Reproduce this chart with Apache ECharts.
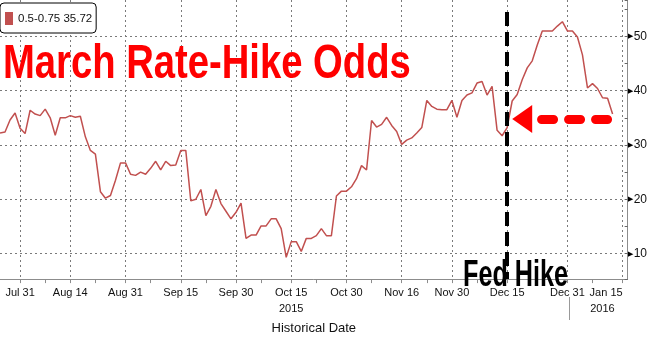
<!DOCTYPE html>
<html><head><meta charset="utf-8">
<script src="https://cdn.jsdelivr.net/npm/echarts@6/dist/echarts.min.js"></script>
<style>html,body{margin:0;padding:0;background:#fff}#c{width:650px;height:340px}</style>
</head><body><div id="c"></div>
<script>
// ---- data ----
const seriesName = '0.5-0.75';
const firstDate = '2015-07-27';
const lastDate = '2016-01-18';
const values = [
  32.2, 32.4, 34.6, 35.9, 33.1, 32.1, 36.4, 35.7, 35.4, 36.6,
  35.0, 31.8, 35.0, 35.0, 35.4, 35.1, 35.3, 31.5, 29.0, 28.3,
  21.4, 20.2, 20.7, 23.5, 26.7, 26.7, 24.6, 24.4, 25.0, 24.6,
  25.7, 27.0, 25.4, 27.0, 26.2, 26.3, 29.0, 29.0, 19.7, 20.0,
  21.8, 17.0, 18.7, 21.8, 19.2, 17.8, 16.4, 17.6, 19.3, 12.8,
  13.4, 13.4, 15.1, 15.1, 16.4, 16.4, 14.6, 9.3, 12.2, 12.2,
  10.4, 12.8, 12.8, 13.3, 14.6, 13.3, 13.3, 20.6, 21.5, 21.5,
  22.3, 23.8, 26.2, 25.4, 34.5, 33.3, 33.8, 35.1, 33.6, 32.5,
  30.1, 30.9, 31.3, 32.2, 33.2, 38.2, 37.1, 36.6, 36.5, 36.5,
  38.2, 35.1, 38.2, 39.2, 39.6, 41.4, 41.7, 39.2, 40.8, 32.7,
  31.7, 33.2, 38.1, 39.3, 42.0, 44.2, 45.5, 48.4, 51.0, 51.0,
  51.0, 51.9, 52.7, 51.0, 51.0, 49.9, 46.6, 40.5, 41.3, 40.4,
  38.7, 38.6, 35.72
];
const tickDates = ['2015-07-31','2015-08-14','2015-08-31','2015-09-15','2015-09-30','2015-10-15',
  '2015-10-30','2015-11-16','2015-11-30','2015-12-15','2015-12-31','2016-01-15'];
const minorTickDates = ['2015-08-07','2015-08-21','2015-09-07','2015-09-22','2015-10-07','2015-10-22',
  '2015-11-06','2015-11-23','2015-12-07','2015-12-23','2016-01-07'];
const yearLabels = {'2015-10-15': '2015', '2016-01-15': '2016'};
const monthNames = ['Jan','Feb','Mar','Apr','May','Jun','Jul','Aug','Sep','Oct','Nov','Dec'];
const hikeDate = '2015-12-15';
const arrowFrom = '2016-01-12', arrowTo = '2015-12-18', arrowLevel = 34.8, hikeTop = 54.5;
const yMin = 5.3, yMax = 56.7;
const titleText = 'March Rate-Hike Odds';
const hikeText = 'Fed Hike';
const axisName = 'Historical Date';

// weekday categories (business-day axis)
function weekdays(a, b) {
  const out = []; let d = new Date(a + 'T00:00:00Z'); const e = new Date(b + 'T00:00:00Z');
  while (d <= e) { const w = d.getUTCDay(); if (w !== 0 && w !== 6) out.push(d.toISOString().slice(0, 10)); d = new Date(d.getTime() + 86400000); }
  return out;
}
const categories = weekdays(firstDate, lastDate);
const tickSet = new Set(tickDates);
const allTickSet = new Set(tickDates.concat(minorTickDates));
function fmt(s) { const p = s.split('-'); return monthNames[+p[1] - 1] + ' ' + (+p[2]); }

const FONT = '"Liberation Sans", Arial, sans-serif';
const lineColor = '#c1504f';
const gridColor = '#7a7a7a';

const chart = echarts.init(document.getElementById('c'), null, {renderer: 'canvas'});
chart.setOption({
  animation: false,
  backgroundColor: '#fff',
  legend: {
    left: 0, top: 3, padding: [9, 4, 8, 5], itemWidth: 8, itemHeight: 13, icon: 'rect',
    borderColor: '#000', borderWidth: 1, borderRadius: 4, backgroundColor: '#fff',
    textStyle: {fontFamily: FONT, fontSize: 11.5, color: '#111'},
    formatter: n => n + ' ' + values[values.length - 1]
  },
  grid: {left: 0, right: 18, top: 0, bottom: 56, containLabel: false},
  xAxis: {
    type: 'category', data: categories, boundaryGap: false,
    name: axisName, nameLocation: 'middle', nameGap: 42,
    nameTextStyle: {fontFamily: FONT, fontSize: 13, color: '#111'},
    axisLine: {lineStyle: {color: '#8c8c8c', width: 1}},
    axisTick: {interval: (i, v) => allTickSet.has(v), length: 4, lineStyle: {color: '#8c8c8c'}},
    axisLabel: {
      interval: (i, v) => tickSet.has(v), margin: 6, color: '#111', fontFamily: FONT, fontSize: 11, lineHeight: 16,
      showMinLabel: true, showMaxLabel: true, alignMaxLabel: 'right',
      formatter: v => {
        const t = fmt(v);
        if (v === '2016-01-15') return '{d|' + t + '}\n{y2|' + yearLabels[v] + '}';
        if (yearLabels[v]) return t + '\n' + yearLabels[v];
        return t;
      },
      rich: {
        d: {fontFamily: FONT, fontSize: 11, lineHeight: 16, color: '#111'},
        y2: {fontFamily: FONT, fontSize: 11, lineHeight: 16, color: '#111', padding: [0, 8, 0, 0]}
      }
    },
    splitLine: {show: true, interval: (i, v) => tickSet.has(v), lineStyle: {color: gridColor, width: 1, type: [2, 3]}}
  },
  yAxis: [{
    type: 'value', position: 'right', min: yMin, max: yMax, splitNumber: 5,
    axisLine: {show: true, lineStyle: {color: '#8c8c8c', width: 1}},
    axisTick: {show: false},
    axisLabel: {
      margin: 0, showMinLabel: false, showMaxLabel: false,
      formatter: v => '{t|\u25B6}{n|' + v + '}',
      rich: {
        t: {fontSize: 7, color: '#000', padding: [0, 1, 0, 0]},
        n: {fontFamily: FONT, fontSize: 12, color: '#111'}
      }
    },
    splitLine: {show: true, showMinLine: false, showMaxLine: false, lineStyle: {color: gridColor, width: 1, type: [2, 3]}}
  }, {
    type: 'value', position: 'right', min: yMin, max: yMax, splitNumber: 10,
    axisLine: {show: false}, axisLabel: {show: false}, splitLine: {show: false},
    axisTick: {show: true, inside: true, length: 3, lineStyle: {color: '#666'}}
  }],
  series: [{
    name: seriesName, type: 'line', data: values, showSymbol: false, symbol: 'none',
    color: lineColor, lineStyle: {color: lineColor, width: 1.5}, z: 3,
    markLine: {
      silent: true, animation: false, label: {show: false}, symbol: ['none', 'none'],
      data: [
        [{coord: [hikeDate, hikeTop], symbol: 'none'}, {coord: [hikeDate, yMin], symbol: 'none',
          lineStyle: {color: '#000', width: 4, type: [14, 6]}}],
        [{coord: [arrowFrom, arrowLevel], symbol: 'none'}, {coord: [arrowTo, arrowLevel], symbol: 'triangle', symbolSize: [28, 20],
          lineStyle: {color: '#ff0000', width: 9, type: [12, 15], cap: 'round'}, itemStyle: {color: '#ff0000'}}]
      ]
    }
  }],
  graphic: [
    {type: 'text', x: 3, y: 40, scaleX: 0.78, z: 100,
      style: {text: titleText, font: 'bold 49px "Liberation Sans", Arial, sans-serif', fill: '#ff0000', verticalAlign: 'top'}},
    {type: 'text', x: 463, y: 258, scaleX: 0.70, z: 100,
      style: {text: hikeText, font: 'bold 36px "Liberation Sans", Arial, sans-serif', fill: '#000', verticalAlign: 'top'}},
    {type: 'line', shape: {x1: 569.5, y1: 297, x2: 569.5, y2: 320}, style: {stroke: '#999', lineWidth: 1}, z: 1}
  ]
});
</script></body></html>
